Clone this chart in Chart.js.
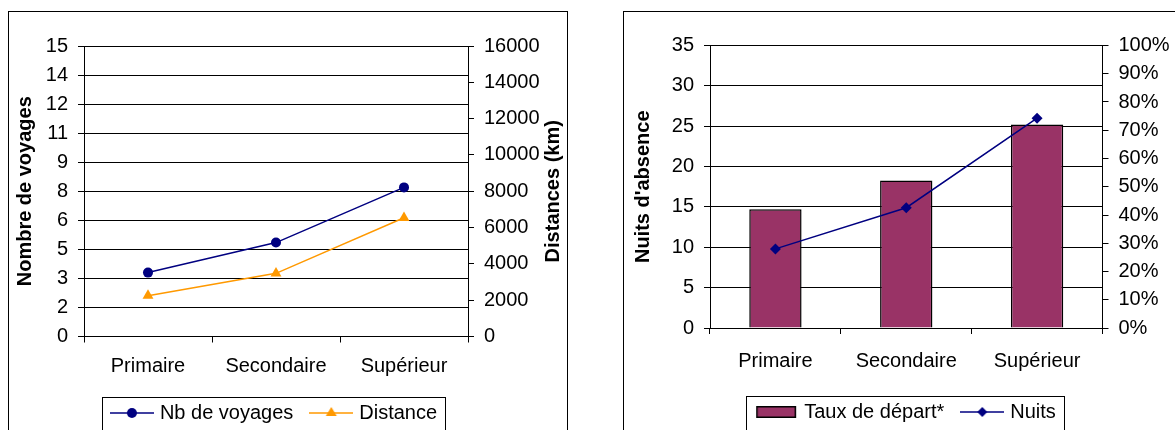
<!DOCTYPE html>
<html lang="fr">
<head>
<meta charset="utf-8">
<title>Voyages selon le niveau d'études</title>
<script src="https://cdn.jsdelivr.net/npm/chart.js@4.4.1/dist/chart.umd.min.js"></script>
<style>
	html, body { margin: 0; padding: 0; background: #fff; overflow: hidden; }
	.panel { position: absolute; box-sizing: border-box; border: 1px solid #000; background: #fff; }
	.panel--voyages { left: 8px; top: 11px; width: 560px; height: 440px; }
	.panel--nuits { left: 623px; top: 11px; width: 600px; height: 440px; }
	.panel canvas { position: absolute; left: 0; top: 0; }
</style>
</head>
<body>
<div class="panel panel--voyages"><canvas id="chart-voyages" width="558" height="430"></canvas></div>
<div class="panel panel--nuits"><canvas id="chart-nuits" width="551" height="430"></canvas></div>
<script>
const categories = [ 'Primaire', 'Secondaire', 'Supérieur' ];

// graphique de gauche
const nbVoyages = [ 3.3, 4.85, 7.7 ];
const distances = [ 2250, 3480, 6540 ];
const voyageTicks = [ 0, 1.5, 3, 4.5, 6, 7.5, 9, 10.5, 12, 13.5, 15 ];
const voyageTickLabels = [ '0', '2', '3', '5', '6', '8', '9', '11', '12', '14', '15' ];
const distanceTicks = [ 0, 2000, 4000, 6000, 8000, 10000, 12000, 14000, 16000 ];

// graphique de droite
const tauxDepart = [ 0.42, 0.522, 0.72 ];
const nuits = [ 9.8, 14.9, 26 ];
const nuitsTicks = [ 0, 5, 10, 15, 20, 25, 30, 35 ];
const tauxTicks = [ 0, 0.1, 0.2, 0.3, 0.4, 0.5, 0.6, 0.7, 0.8, 0.9, 1 ];

const FONT = '"Liberation Sans", Arial, sans-serif';
const NAVY = '#000080';
const ORANGE = '#ff9900';
const PLUM = '#993366';

Chart.defaults.font.family = FONT;
Chart.defaults.font.size = 20;
Chart.defaults.color = '#000';

function legendSymbol( draw ) {
	const c = document.createElement( 'canvas' );
	c.width = 44;
	c.height = 20;
	draw( c.getContext( '2d' ) );
	return c;
}

function lineSymbol( color, marker ) {
	return legendSymbol( ( ctx ) => {
		ctx.strokeStyle = color;
		ctx.fillStyle = color;
		ctx.lineWidth = 1.5;
		ctx.beginPath();
		ctx.moveTo( 0, 10 );
		ctx.lineTo( 44, 10 );
		ctx.stroke();
		ctx.beginPath();
		if ( marker === 'circle' ) {
			ctx.arc( 22, 10, 5, 0, Math.PI * 2 );
		} else if ( marker === 'triangle' ) {
			ctx.moveTo( 22, 4 );
			ctx.lineTo( 27.5, 13 );
			ctx.lineTo( 16.5, 13 );
		} else {
			ctx.moveTo( 22, 5 );
			ctx.lineTo( 27, 10 );
			ctx.lineTo( 22, 15 );
			ctx.lineTo( 17, 10 );
		}
		ctx.closePath();
		ctx.fill();
	} );
}

const barSymbol = legendSymbol( ( ctx ) => {
	ctx.fillStyle = PLUM;
	ctx.fillRect( 2, 4, 40, 12 );
	ctx.strokeStyle = '#000';
	ctx.lineWidth = 1.5;
	ctx.strokeRect( 2.75, 4.75, 38.5, 10.5 );
} );

// titres d'axes (lus de bas en haut des deux côtés) et cadre de la légende
const frame = {
	id: 'frame',
	afterDraw( chart, args, opts ) {
		const { ctx, chartArea } = chart;
		const cy = ( chartArea.top + chartArea.bottom ) / 2;
		ctx.save();
		ctx.font = 'bold 20px ' + FONT;
		ctx.fillStyle = '#000';
		ctx.textAlign = 'center';
		ctx.textBaseline = 'middle';
		( opts.titles || [] ).forEach( ( t ) => {
			ctx.save();
			ctx.translate( t.x, cy );
			ctx.rotate( -Math.PI / 2 );
			ctx.fillText( t.text, 0, 0 );
			ctx.restore();
		} );

		const boxes = chart.legend.legendHitBoxes;
		if ( boxes && boxes.length ) {
			const left = Math.round( Math.min( ...boxes.map( ( b ) => b.left ) ) - 12 );
			const right = Math.round( Math.max( ...boxes.map( ( b ) => b.left + b.width ) ) + 8 );
			const top = Math.round( boxes[ 0 ].top + boxes[ 0 ].height / 2 - 16 );
			ctx.strokeStyle = '#000';
			ctx.lineWidth = 1;
			ctx.strokeRect( left + 0.5, top + 0.5, right - left, chart.height );
		}
		ctx.restore();
	},
};

const fixTicks = ( values ) => ( scale ) => {
	scale.ticks = values.map( ( value ) => ( { value } ) );
};

function valueAxis( position, values, width, format, onChart ) {
	return {
		position,
		min: values[ 0 ],
		max: values[ values.length - 1 ],
		afterBuildTicks: fixTicks( values ),
		afterFit: ( scale ) => {
			scale.width = width;
		},
		grid: { drawOnChartArea: onChart, color: '#000', tickLength: 6 },
		border: { color: '#000' },
		ticks: { padding: 10, callback: format },
	};
}

function categoryAxis( height, padding ) {
	return {
		offset: true,
		afterFit: ( scale ) => {
			scale.height = height;
		},
		grid: { offset: true, drawOnChartArea: false, color: '#000', tickLength: 6 },
		border: { color: '#000' },
		ticks: { padding, maxRotation: 0 },
	};
}

function legendOptions( symbols ) {
	return {
		position: 'bottom',
		labels: {
			usePointStyle: true,
			pointStyleWidth: 36,
			padding: 20,
			generateLabels: ( chart ) =>
				chart.data.datasets.map( ( ds, i ) => ( {
					text: ds.label,
					pointStyle: symbols[ i ],
					datasetIndex: i,
					hidden: false,
					lineWidth: 0,
					fillStyle: 'transparent',
					strokeStyle: 'transparent',
				} ) ),
		},
	};
}

const common = {
	responsive: false,
	animation: false,
	devicePixelRatio: 1,
	events: [],
};

new Chart( document.getElementById( 'chart-voyages' ), { // eslint-disable-line no-new
	type: 'line',
	data: {
		labels: categories,
		datasets: [
			{
				label: 'Nb de voyages',
				data: nbVoyages,
				yAxisID: 'y',
				borderColor: NAVY,
				backgroundColor: NAVY,
				borderWidth: 1.5,
				pointStyle: 'circle',
				pointRadius: 5,
				pointBorderWidth: 0,
			},
			{
				label: 'Distance',
				data: distances,
				yAxisID: 'y1',
				borderColor: ORANGE,
				backgroundColor: ORANGE,
				borderWidth: 1.5,
				pointStyle: 'triangle',
				pointRadius: 6.3,
				pointBorderWidth: 0,
			},
		],
	},
	options: {
		...common,
		layout: { padding: { top: 34, bottom: 9, left: 0, right: 25 } },
		scales: {
			x: categoryAxis( 46.5, 12 ),
			y: valueAxis( 'left', voyageTicks, 75, ( v, i ) => voyageTickLabels[ i ], true ),
			y1: valueAxis( 'right', distanceTicks, 74, ( v ) => String( v ), false ),
		},
		plugins: {
			legend: legendOptions( [ lineSymbol( NAVY, 'circle' ), lineSymbol( ORANGE, 'triangle' ) ] ),
			tooltip: { enabled: false },
			frame: {
				titles: [
					{ text: 'Nombre de voyages', x: 16.5 },
					{ text: 'Distances (km)', x: 544 },
				],
			},
		},
	},
	plugins: [ frame ],
} );

new Chart( document.getElementById( 'chart-nuits' ), { // eslint-disable-line no-new
	type: 'bar',
	data: {
		labels: categories,
		datasets: [
			{
				type: 'bar',
				label: 'Taux de départ*',
				data: tauxDepart,
				yAxisID: 'y1',
				backgroundColor: PLUM,
				borderColor: '#000',
				borderWidth: 1.5,
				categoryPercentage: 0.8,
				barPercentage: 0.5,
				order: 2,
			},
			{
				type: 'line',
				label: 'Nuits',
				data: nuits,
				yAxisID: 'y',
				borderColor: NAVY,
				backgroundColor: NAVY,
				borderWidth: 1.5,
				pointStyle: 'rectRot',
				pointRadius: 5.5,
				pointBorderWidth: 0,
				order: 1,
			},
		],
	},
	options: {
		...common,
		layout: { padding: { top: 33.5, bottom: 10, left: 15, right: 0 } },
		scales: {
			x: categoryAxis( 54, 15 ),
			y: valueAxis( 'left', nuitsTicks, 71, ( v ) => String( v ), true ),
			y1: valueAxis( 'right', tauxTicks, 72.5, ( v ) => Math.round( v * 100 ) + '%', false ),
		},
		plugins: {
			legend: legendOptions( [ barSymbol, lineSymbol( NAVY, 'diamond' ) ] ),
			tooltip: { enabled: false },
			frame: {
				titles: [ { text: "Nuits d'absence", x: 19 } ],
			},
		},
	},
	plugins: [ frame ],
} );
</script>
</body>
</html>
